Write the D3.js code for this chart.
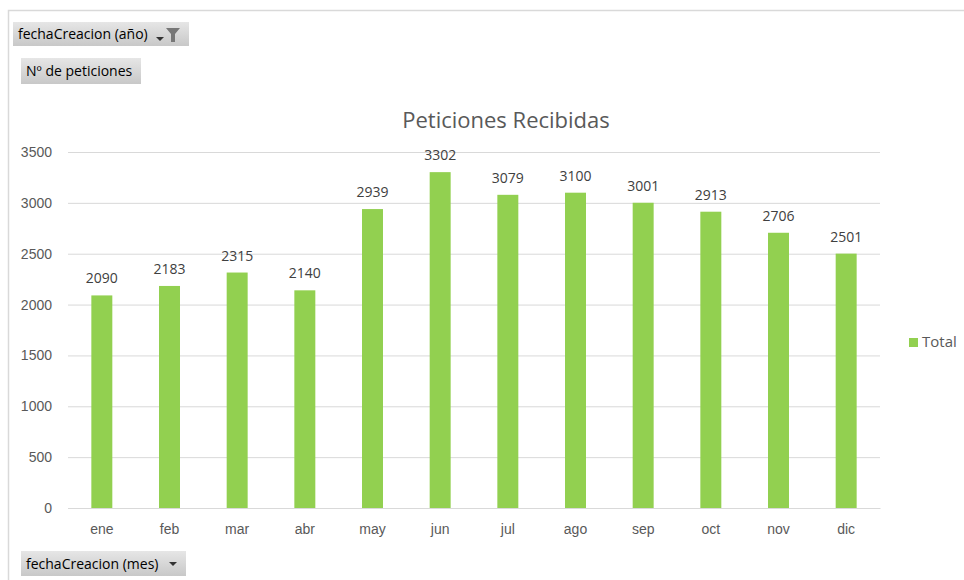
<!DOCTYPE html>
<html>
<head>
<meta charset="utf-8">
<script src="https://cdn.jsdelivr.net/npm/d3@7"></script>
<style>
  body { margin: 0; background: #fff; }
  svg { font-family: "Open Sans", "Noto Sans", sans-serif; }
</style>
</head>
<body>
<script>
'use strict';
const months = ['ene', 'feb', 'mar', 'abr', 'may', 'jun', 'jul', 'ago', 'sep', 'oct', 'nov', 'dic'];
const totals = [2090, 2183, 2315, 2140, 2939, 3302, 3079, 3100, 3001, 2913, 2706, 2501];
const yTicks = [0, 500, 1000, 1500, 2000, 2500, 3000, 3500];

(function() {
    const plot = { left: 68, right: 880, top: 152, bottom: 508 };
    const svg = d3.select('body').append('svg')
        .attr('width', 964)
        .attr('height', 580);

    // frame of the pivot chart
    svg.append('path')
        .attr('d', 'M8.5,580 V10.5 H964')
        .attr('fill', 'none')
        .attr('stroke', '#d9d9d9')
        .attr('stroke-width', 1.5);

    let x = d3.scaleBand()
        .domain(months)
        .range([plot.left, plot.right])
        .paddingInner(0.69)
        .paddingOuter(0.345);
    let y = d3.scaleLinear()
        .domain([0, 3500])
        .range([plot.bottom, plot.top]);

    // gridlines + y labels
    let yAxis = d3.axisLeft(y).tickValues(yTicks).tickFormat(d3.format('d'))
        .tickSize(-(plot.right - plot.left)).tickPadding(16);
    let gy = svg.append('g')
        .attr('transform', 'translate(' + plot.left + ',0)')
        .call(yAxis);
    gy.select('.domain').remove();
    gy.selectAll('line').attr('stroke', '#d9d9d9').attr('stroke-width', 1);
    gy.selectAll('text').attr('fill', '#595959').style('font-size', '14px');

    // x axis
    let xAxis = d3.axisBottom(x).tickSize(0).tickPadding(16);
    let gx = svg.append('g')
        .attr('transform', 'translate(0,' + plot.bottom + ')')
        .call(xAxis);
    gx.select('.domain').attr('stroke', '#d9d9d9');
    gx.selectAll('text').attr('fill', '#595959').style('font-size', '14px');

    // bars
    svg.selectAll('.bar')
        .data(totals)
        .enter()
        .append('rect')
        .attr('class', 'bar')
        .attr('x', (d, i) => x(months[i]))
        .attr('y', d => y(d))
        .attr('width', x.bandwidth())
        .attr('height', d => y(0) - y(d))
        .attr('fill', '#92d050');

    // data labels
    svg.selectAll('.lbl')
        .data(totals)
        .enter()
        .append('text')
        .attr('class', 'lbl')
        .attr('x', (d, i) => x(months[i]) + x.bandwidth() / 2)
        .attr('y', d => y(d) - 12)
        .attr('text-anchor', 'middle')
        .attr('fill', '#404040')
        .style('font-size', '14px')
        .text(d => d);

    // title
    svg.append('text')
        .attr('x', 506)
        .attr('y', 128)
        .attr('text-anchor', 'middle')
        .attr('fill', '#595959')
        .style('font-size', '22px')
        .text('Peticiones Recibidas');

    // legend
    svg.append('rect')
        .attr('x', 909).attr('y', 338)
        .attr('width', 9).attr('height', 9)
        .attr('fill', '#92d050');
    svg.append('text')
        .attr('x', 922).attr('y', 347)
        .attr('fill', '#595959')
        .style('font-size', '15px')
        .text('Total');

    // pivot field buttons
    let grad = svg.append('defs').append('linearGradient')
        .attr('id', 'btn').attr('x1', 0).attr('y1', 0).attr('x2', 0).attr('y2', 1);
    grad.append('stop').attr('offset', '0%').attr('stop-color', '#e6e6e6');
    grad.append('stop').attr('offset', '100%').attr('stop-color', '#c8c8c8');

    function button(bx, by, w, h, label) {
        svg.append('rect')
            .attr('x', bx).attr('y', by)
            .attr('width', w).attr('height', h)
            .attr('fill', 'url(#btn)');
        svg.append('text')
            .attr('x', bx + 5).attr('y', by + h / 2 + 5)
            .attr('fill', '#000')
            .style('font-size', '14px')
            .text(label);
    }
    button(13, 22, 176, 24, 'fechaCreacion (año)');
    button(21, 58, 120, 26, 'Nº de peticiones');
    button(21, 551, 165, 25, 'fechaCreacion (mes)');

    // dropdown arrows and filter icon
    svg.append('path').attr('d', 'M156,37 h8 l-4,4 z').attr('fill', '#333');
    svg.append('path').attr('d', 'M166,28 h14 l-5,6 v8 h-4 v-8 z').attr('fill', '#777');
    svg.append('path').attr('d', 'M169,562 h8 l-4,4 z').attr('fill', '#333');
})();
</script>
</body>
</html>
